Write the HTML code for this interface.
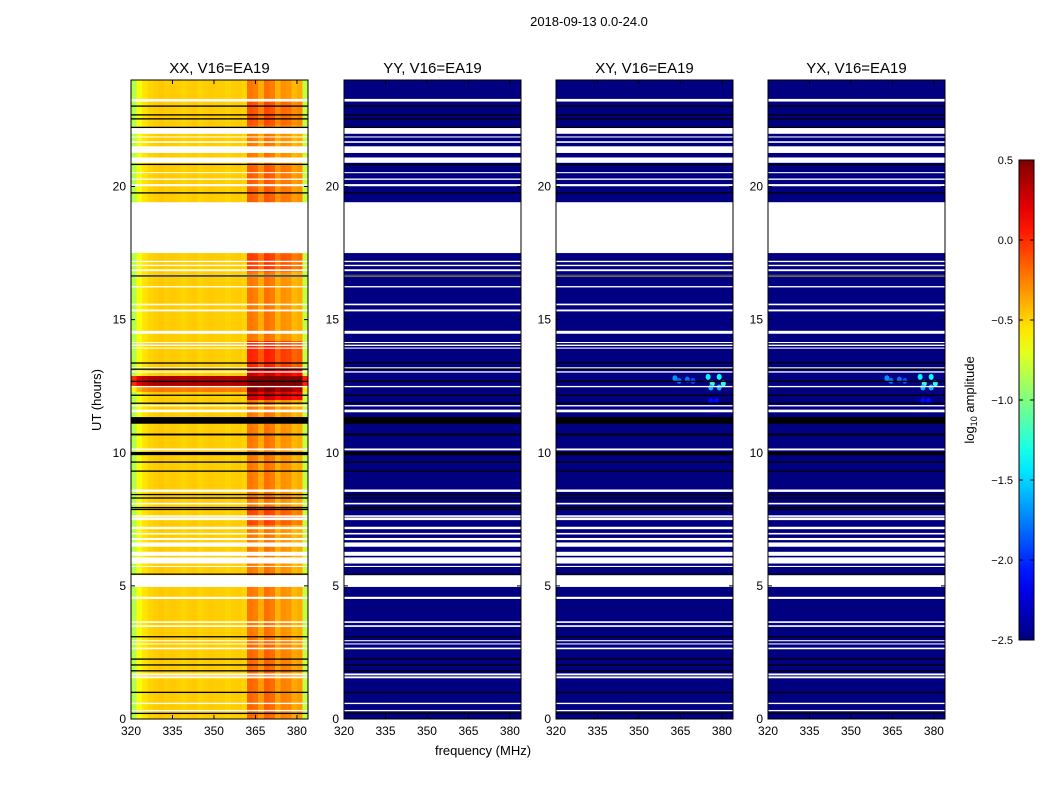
<!DOCTYPE html>
<html><head><meta charset="utf-8"><style>
body{margin:0;background:#fff;}
svg{display:block;font-family:"Liberation Sans",sans-serif;}
</style></head><body>
<svg id="chart" width="1050" height="800" viewBox="0 0 1050 800" xmlns="http://www.w3.org/2000/svg">
<rect width="1050" height="800" fill="#fff"/>
<text x="589" y="26" font-size="13" text-anchor="middle">2018-09-13 0.0-24.0</text>
<g id="panels"></g>
<text transform="translate(101,400) rotate(-90)" font-size="13" text-anchor="middle">UT (hours)</text>
<text x="483" y="755" font-size="13" text-anchor="middle">frequency (MHz)</text>
<g id="cbar"></g>
<text transform="translate(974,400) rotate(-90)" font-size="13" text-anchor="middle">log<tspan font-size="9" dy="3">10</tspan><tspan dy="-3"> amplitude</tspan></text>
</svg>
<script>
const panelTitles=["XX, V16=EA19","YY, V16=EA19","XY, V16=EA19","YX, V16=EA19"];
const xTicks=[320,335,350,365,380];
const yTicks=[0,5,10,15,20];
const cbarTicks=[0.5,0.0,-0.5,-1.0,-1.5,-2.0,-2.5];
const freqCenters=[321,323,325,327,329,331,333,335,337,339,341,343,345,347,349,351,353,355,357,359,361,363,365,367,369,371,373,375,377,379,381,383];
const xxProfile=[-0.85,-0.65,-0.55,-0.5,-0.48,-0.46,-0.48,-0.47,-0.48,-0.5,-0.48,-0.47,-0.5,-0.48,-0.47,-0.48,-0.48,-0.5,-0.48,-0.47,-0.5,-0.22,-0.25,-0.38,-0.2,-0.24,-0.4,-0.3,-0.32,-0.42,-0.38,-0.8];
const hiBoostSeg=[[22.3,23.3,0.12],[16.8,17.5,0.18],[13.2,14.2,0.25],[12.0,13.2,0.5],[7.3,8.0,0.15],[0,3,0.05],[19.4,20.8,0.08]];
const allBoostSeg=[[12.55,12.95,0.85],[12.3,12.5,0.25]];
const whiteGaps=[[23.19,23.29],[21.98,22.2],[21.84,21.88],[21.64,21.7],[21.26,21.51],[20.89,21.09],[20.5,20.54],[20.25,20.3],[20.01,20.09],[17.5,19.41],[17.16,17.21],[17.01,17.06],[16.82,16.89],[16.6,16.68],[16.21,16.26],[15.54,15.6],[15.31,15.38],[14.47,14.58],[14.12,14.16],[14.01,14.06],[13.91,13.95],[13.17,13.21],[13.01,13.06],[12.46,12.51],[11.74,11.79],[11.52,11.62],[10.09,10.16],[8.53,8.62],[8.06,8.12],[7.59,7.65],[7.47,7.57],[7.13,7.22],[6.93,6.99],[6.72,6.8],[6.47,6.63],[6.13,6.28],[5.84,6.07],[5.71,5.75],[4.96,5.4],[4.51,4.59],[3.61,3.67],[3.46,3.52],[2.92,2.96],[2.8,2.84],[2.62,2.68],[1.64,1.71],[1.53,1.6],[0.56,0.61],[0.29,0.34]];
const blackLines=[[23.0,23.04],[22.67,22.71],[22.52,22.56],[22.2,22.24],[20.81,20.85],[19.74,19.78],[16.62,16.66],[13.35,13.39],[13.12,13.16],[12.66,12.7],[12.14,12.18],[11.84,11.88],[11.09,11.34],[10.65,10.72],[9.91,10.03],[9.63,9.67],[9.29,9.33],[8.41,8.45],[8.28,8.32],[7.92,7.96],[7.85,7.89],[5.42,5.46],[3.07,3.11],[2.23,2.27],[2.01,2.05],[1.79,1.83],[0.98,1.02],[0.19,0.23]];
const blobFreq=[363,364.5,367.5,369.5,375,376.5,379,380.5,376,378,376,379];
const blobTime=[12.8,12.7,12.75,12.7,12.85,12.6,12.85,12.6,11.95,11.95,12.45,12.45];
const blobVal=[-1.7,-1.8,-1.8,-1.9,-1.4,-1.2,-1.35,-1.25,-2.1,-2.1,-1.6,-1.6];
const YYBASE=-2.5;

const NS="http://www.w3.org/2000/svg";
const X0=[131,344,556,768],PW=177,TOP=80,BOT=719;
function xs(p,f){return X0[p]+(f-320)*PW/64;}
function ys(h){return BOT-h*(BOT-TOP)/24;}
function jet(v){let t=(v+2.5)/3;t=Math.max(0,Math.min(1,t));
 const r=Math.max(0,Math.min(1,Math.min(4*t-1.5,-4*t+4.5)));
 const g=Math.max(0,Math.min(1,Math.min(4*t-0.5,-4*t+3.5)));
 const b=Math.max(0,Math.min(1,Math.min(4*t+0.5,-4*t+2.5)));
 return `rgb(${Math.round(r*255)},${Math.round(g*255)},${Math.round(b*255)})`;}
function el(tag,attrs,parent){const e=document.createElementNS(NS,tag);for(const k in attrs)e.setAttribute(k,attrs[k]);parent.appendChild(e);return e;}
function segVal(segs,h){let s=0;for(const g of segs){if(h>=g[0]&&h<g[1])s+=g[2];}return s;}
const panels=document.getElementById('panels');
for(let p=0;p<4;p++){
 const g=el('g',{},panels);
 
 
 const hm=el('g',{'shape-rendering':'crispEdges'},g);
 
 
 const dt=0.1;
 for(let i=0;i<240;i++){
  const h0=i*dt,h1=h0+dt,hc=h0+dt/2;
  if(p===0){
   for(let j=0;j<freqCenters.length;j++){
    const f=freqCenters[j];
    let v=xxProfile[j]+segVal(allBoostSeg,hc)+(f>=362&&f<=382?segVal(hiBoostSeg,hc):0);
    const c=el('rect',{x:xs(p,f-1),y:ys(h1),width:xs(p,f+1)-xs(p,f-1)+0.3,height:ys(h0)-ys(h1)+0.3,fill:jet(v)},hm);
    
    
   }
  } else {
   const c=el('rect',{x:X0[p],y:ys(h1),width:PW,height:ys(h0)-ys(h1)+0.3,fill:jet(YYBASE)},hm);
   
   
  }
 }
 if(p>=2){
  for(let k=0;k<blobFreq.length;k++){
   const b=el('ellipse',{cx:xs(p,blobFreq[k]),cy:ys(blobTime[k]),rx:2.5,ry:3,fill:jet(blobVal[k])},g);
   
   
  }
 }
 for(const w of whiteGaps){
  const r=el('rect',{x:X0[p],y:ys(w[1]),width:PW,height:ys(w[0])-ys(w[1]),fill:'#fff'},g);
  
  
 }
 for(const b of blackLines){
  const hgt=Math.max(1.3,ys(b[0])-ys(b[1]));
  const r=el('rect',{x:X0[p],y:(ys(b[0])+ys(b[1]))/2-hgt/2,width:PW,height:hgt,fill:'#000'},g);
  
  
 }
 const fr=el('rect',{x:X0[p],y:TOP,width:PW,height:BOT-TOP,fill:'none',stroke:'#000','stroke-width':1},g);
 
 
 const t=el('text',{x:X0[p]+PW/2,y:TOP-7,'font-size':15,'text-anchor':'middle'},g);
 t.textContent=panelTitles[p];
 
 
 for(const v of xTicks){
  const x=xs(p,v);
  el('line',{x1:x,x2:x,y1:BOT,y2:BOT-4,stroke:'#000'},g);
  el('line',{x1:x,x2:x,y1:TOP,y2:TOP+4,stroke:'#000'},g);
  const l=el('text',{x:x,y:BOT+16,'font-size':12,'text-anchor':'middle'},g);
  l.textContent=v;
  
  
 }
 for(const v of yTicks){
  const y=ys(v);
  el('line',{x1:X0[p],x2:X0[p]+4,y1:y,y2:y,stroke:'#000'},g);
  el('line',{x1:X0[p]+PW,x2:X0[p]+PW-4,y1:y,y2:y,stroke:'#000'},g);
  const l=el('text',{x:X0[p]-5,y:y+4,'font-size':12,'text-anchor':'end'},g);
  l.textContent=v;
  
  
 }
}
const cb=document.getElementById('cbar');
const CX=1019,CW=15,CT=160,CB=640;
function cy(v){return CT+(0.5-v)*(CB-CT)/3;}
const grad=el('linearGradient',{id:'jetg',x1:0,y1:1,x2:0,y2:0},el('defs',{},cb));
for(let i=0;i<=20;i++){el('stop',{offset:i/20,'stop-color':jet(-2.5+3*i/20)},grad);}
const cr=el('rect',{x:CX,y:CT,width:CW,height:CB-CT,fill:'url(#jetg)',stroke:'#000','stroke-width':1},cb);


for(const v of cbarTicks){
 const y=cy(v);
 el('line',{x1:CX,x2:CX+4,y1:y,y2:y,stroke:'#000'},cb);
 el('line',{x1:CX+CW,x2:CX+CW-4,y1:y,y2:y,stroke:'#000'},cb);
 const l=el('text',{x:CX-6,y:y+4,'font-size':11,'text-anchor':'end'},cb);
 l.textContent=v.toFixed(1).replace('-','\u2212');
 
 
}
</script>
</body></html>
